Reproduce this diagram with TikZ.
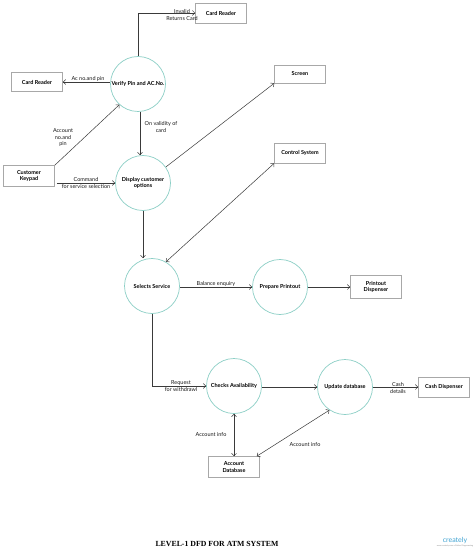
\documentclass[tikz,border=0pt]{standalone}
\usepackage{fontspec}
\setmainfont{Lato}
\newfontfamily\titlefont{Liberation Serif}
\usetikzlibrary{positioning,arrows.meta}
\definecolor{procline}{HTML}{8CCFC6}
\definecolor{boxline}{HTML}{A8A8A8}
\definecolor{flowline}{HTML}{3A3A3A}
\definecolor{brandblue}{HTML}{3FA3D3}

\begin{document}
\begin{tikzpicture}[x=1pt,y=-1pt, font=\fontsize{5.5}{6.5}\selectfont,
  ent/.style={draw=boxline, line width=0.6pt, minimum width=51pt, minimum height=20pt,
    align=center, inner sep=1pt, font=\fontsize{5.5}{6.5}\selectfont\bfseries},
  proc/.style={circle, draw=procline, line width=0.7pt, minimum size=55pt, inner sep=0pt,
    align=center, font=\fontsize{5.5}{6.5}\selectfont\bfseries},
  flow/.style={-{Straight Barb[length=2.5pt,width=5pt]}, draw=flowline, line width=0.5pt},
  biflow/.style={flow, {Straight Barb[length=2.5pt,width=5pt]}-{Straight Barb[length=2.5pt,width=5pt]}},
  lbl/.style={align=center, inner sep=0.5pt, text=black!90}]
\fill[white] (0,0) rectangle (474,553);
% external entities
\node[ent] (cardtop) at (221,13) {Card Reader};
\node[ent, minimum height=19pt] (cardleft) at (37,82) {Card Reader};
\node[ent, minimum height=21pt] (keypad) at (29,176) {Customer\\Keypad};
\node[ent, minimum height=18pt] (screen) at (300,74) {Screen};
\node[ent] (control) at (300,153) {Control System};
\node[ent, minimum height=23pt] (printer) at (376,287) {Printout\\Dispenser};
\node[ent] (cashdisp) at (444,387) {Cash Dispenser};
\node[ent, minimum height=21pt] (accdb) at (234,467) {Account\\Database};
% processes
\node[proc] (verify) at (138,84) {Verify Pin and AC.No.};
\node[proc] (display) at (143,183) {Display customer\\options};
\node[proc] (select) at (152,286) {Selects Service};
\node[proc] (prepare) at (280,287) {Prepare Printout};
\node[proc] (checks) at (234,386) {Checks Availability};
\node[proc] (update) at (345,387) {Update database};
% flows
\draw[flow] (verify.north) |- (cardtop.west);
\node[lbl] (invalidlbl) at (182,15) {Invalid\\Returns Card};
\draw[flow] (verify.west |- cardleft.east) -- (cardleft.east);
\node[lbl, anchor=south] (acnolbl) at (88,82) {Ac no.and pin};
\draw[flow] (keypad.north east) -- (verify.228);
\node[lbl] (accnolbl) at (63,138) {Account\\no.and\\pin};
\draw[flow] ([xshift=2pt]keypad.east |- display.west) -- (display.west);
\node[lbl] (cmdlbl) at (86,183) {Command\\for service selection};
\draw[flow] ([xshift=2pt]verify.south) -- ([xshift=2pt]verify.south |- display.north);
\node[lbl] (validlbl) at (161,127) {On validity of\\card};
\draw[flow] (display.35) -- (screen.south west);
\draw[flow] (display.south) -- (display.south |- select.north);
\draw[biflow] (select.60) -- (control.south west);
\draw[flow] (select.east |- prepare.west) -- (prepare.west);
\node[lbl, anchor=south] (ballbl) at (216,287) {Balance enquiry};
\draw[flow] (prepare.east) -- (printer.west);
\draw[flow] (select.south) |- (checks.west);
\node[lbl] (reqlbl) at (181,386) {Request\\for withdrawl};
\draw[flow] (checks.east |- update.west) -- (update.west);
\draw[flow] (update.east) -- (cashdisp.west);
\node[lbl] (cashlbl) at (398,388) {Cash\\details};
\draw[biflow] (checks.south) -- (accdb.north);
\node[lbl] (info1lbl) at (211,435) {Account info};
\draw[biflow] (update.236) -- ([xshift=-3pt]accdb.north east);
\node[lbl] (info2lbl) at (305,445) {Account info};
% title and mark
\node[font=\titlefont\fontsize{7.8}{9}\selectfont\bfseries] (title) at (217,544) {LEVEL-1 DFD FOR ATM SYSTEM};
\node[font=\fontsize{7}{8}\selectfont, text=brandblue, inner sep=0pt] (mark) at (455,541) {creately};
\node[font=\fontsize{2}{2.4}\selectfont, text=black!45, inner sep=0pt, below=0.8pt of mark] (markurl) {www.creately.com • Online Diagramming};
\end{tikzpicture}
\end{document}
